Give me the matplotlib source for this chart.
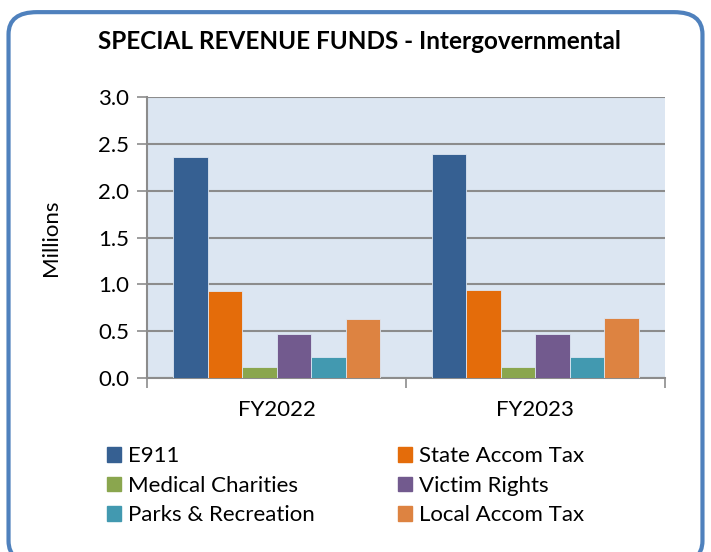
import numpy as np, matplotlib
matplotlib.use('Agg'); import matplotlib.pyplot as plt
from matplotlib.patches import FancyBboxPatch, Patch
plt.rcParams.update({'font.family':['Lato','DejaVu Sans'],'font.size':16})

years=['FY2022','FY2023']
funds=['E911','State Accom Tax','Medical Charities','Victim Rights','Parks & Recreation','Local Accom Tax']
e911=[2.36,2.39]
state_accom=[0.93,0.94]
medical=[0.115,0.115]
victim=[0.47,0.47]
parks=[0.23,0.23]
local_accom=[0.63,0.64]
colors=['#366092','#E46C0A','#8AA64E','#725A8E','#4299B0','#DD8341']

fig=plt.figure(figsize=(7.11,5.52),dpi=100)
fig.patches.append(FancyBboxPatch((0.012,-0.02),0.976,0.998,boxstyle='round,pad=0,rounding_size=0.04',
    transform=fig.transFigure,fc='white',ec='#4F81BD',lw=3,zorder=-1))
ax=fig.add_axes([0.207,0.315,0.728,0.509])
ax.set_facecolor('#DCE6F2')
series=[e911,state_accom,medical,victim,parks,local_accom]
x=np.arange(len(years)); w=0.8/len(series)
for i,(vals,c) in enumerate(zip(series,colors)):
    ax.bar(x-0.4+w*(i+0.5),vals,w,color=c,edgecolor='#DCE6F2',lw=0.6,zorder=3,label=funds[i])
ax.set_xlim(-0.5,1.5); ax.set_ylim(0,3)
ax.set_yticks(np.arange(0,3.01,0.5))
ax.yaxis.set_major_formatter(matplotlib.ticker.FormatStrFormatter('%.1f'))
ax.grid(axis='y',color='#8C8C8C',lw=1.5,zorder=1)
ax.set_xticks(x); ax.set_xticklabels(years)
ax.set_xticks([-0.5,0.5,1.5],minor=True)
ax.tick_params(axis='x',which='major',length=0,pad=16)
ax.tick_params(axis='x',which='minor',length=7,width=1.2,color='#8C8C8C')
ax.tick_params(axis='y',length=7,width=1.2,color='#8C8C8C',pad=6)
for s in ['top','right']: ax.spines[s].set_visible(False)
for s in ['left','bottom']: ax.spines[s].set_color('#8C8C8C'); ax.spines[s].set_linewidth(1.5)
ax.set_ylabel('Millions',labelpad=27)
fig.text(0.506,0.924,'SPECIAL REVENUE FUNDS - Intergovernmental',ha='center',va='center',fontsize=17.5,fontweight='bold')
order=[0,2,4,1,3,5]
handles=[Patch(color=colors[i],label=funds[i]) for i in order]
fig.legend(handles=handles,ncol=2,loc='upper left',bbox_to_anchor=(0.123,0.228),frameon=False,
    handlelength=0.63,handleheight=0.63,handletextpad=0.3,columnspacing=3.75,labelspacing=0.43,fontsize=16)
fig.savefig('out.png',dpi=100)
